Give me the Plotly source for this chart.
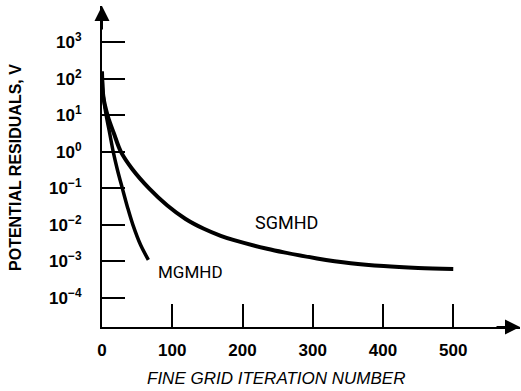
import plotly.graph_objects as go

# ---- data ----
sg_iter = [0, 2, 8, 17, 27, 43, 67, 93, 119, 145, 169, 188, 235, 259, 306, 354, 401, 450, 500]
sg_resid = [1.6e2, 3.2e1, 1.0e1, 3.2e0, 1.0e0, 3.4e-1, 1.0e-1, 3.4e-2, 1.45e-2, 7.8e-3,
            5.0e-3, 3.8e-3, 2.21e-3, 1.76e-3, 1.2e-3, 8.9e-4, 7.4e-4, 6.6e-4, 6.2e-4]

mg_iter = [0, 2, 6, 11, 16, 22, 29, 36, 44, 55, 66]
mg_resid = [1.6e2, 3.2e1, 1.0e1, 3.2e0, 1.0e0, 3.2e-1, 1.0e-1, 3.2e-2, 1.0e-2, 2.8e-3, 1.1e-3]

x_tickvals = [0, 100, 200, 300, 400, 500]
x_ticktext = ["0", "100", "200", "300", "400", "500"]
y_tickvals = [1e-4, 1e-3, 1e-2, 1e-1, 1e0, 1e1, 1e2, 1e3]
y_ticktext = ["10<sup>\u22124</sup>", "10<sup>\u22123</sup>", "10<sup>\u22122</sup>", "10<sup>\u22121</sup>",
              "10<sup>0</sup>", "10<sup>1</sup>", "10<sup>2</sup>", "10<sup>3</sup>"]

FONT = "Arial, Liberation Sans, sans-serif"
LABEL_FONT = "Roboto, Arial, sans-serif"

fig = go.Figure()
fig.add_trace(go.Scatter(x=sg_iter, y=sg_resid, mode="lines",
                         line=dict(color="black", width=4, shape="spline", smoothing=1.0),
                         name="SGMHD", hoverinfo="skip"))
fig.add_trace(go.Scatter(x=mg_iter, y=mg_resid, mode="lines",
                         line=dict(color="black", width=3.5, shape="spline", smoothing=1.0),
                         name="MGMHD", hoverinfo="skip"))

fig.update_layout(
    width=521, height=391,
    margin=dict(l=102, r=1, t=6, b=64),
    plot_bgcolor="white", paper_bgcolor="white",
    showlegend=False,
    font=dict(family=FONT, color="black"),
    xaxis=dict(range=[0, 595], showline=True, linewidth=2, linecolor="black",
               ticks="inside", ticklen=23, tickwidth=1.5, tickcolor="black",
               tickvals=x_tickvals, ticktext=x_ticktext, showgrid=False, zeroline=False,
               tickfont=dict(size=17, family=FONT, color="black", weight="bold"),
               ticklabelstandoff=7),
    yaxis=dict(type="log", range=[-4.8, 4.0], showline=True, linewidth=2, linecolor="black",
               ticks="inside", ticklen=23, tickwidth=1.5, tickcolor="black",
               tickvals=y_tickvals, ticktext=y_ticktext, showgrid=False, zeroline=False,
               tickfont=dict(size=17, family=FONT, color="black", weight="bold"),
               ticklabelstandoff=15),
)

# axis arrowheads
fig.add_annotation(xref="paper", yref="paper", x=0, y=1, ax=0, ay=25, text="",
                   showarrow=True, arrowhead=2, arrowsize=1.5, arrowwidth=2, arrowcolor="black")
fig.add_annotation(xref="paper", yref="paper", x=1, y=0, ax=-25, ay=0, text="",
                   showarrow=True, arrowhead=2, arrowsize=1.5, arrowwidth=2, arrowcolor="black")

# axis titles
fig.add_annotation(xref="paper", yref="paper", x=0.417, y=0, yshift=-51, showarrow=False,
                   text="<i>FINE GRID ITERATION NUMBER</i>", font=dict(size=17, family=FONT),
                   xanchor="center", yanchor="middle")
fig.add_annotation(xref="paper", yref="paper", x=-0.2086, y=0.498, showarrow=False,
                   text="<b>POTENTIAL RESIDUALS, V</b>", textangle=-90,
                   font=dict(size=16, family=FONT), xanchor="center", yanchor="middle")

# curve labels
fig.add_annotation(x=263, y=-1.93, text="SGMHD", showarrow=False,
                   font=dict(size=18, family=LABEL_FONT),
                   xanchor="center", yanchor="middle")
fig.add_annotation(x=126, y=-3.3, text="MGMHD", showarrow=False,
                   font=dict(size=17, family=LABEL_FONT),
                   xanchor="center", yanchor="middle")

fig.write_html("out.html")
